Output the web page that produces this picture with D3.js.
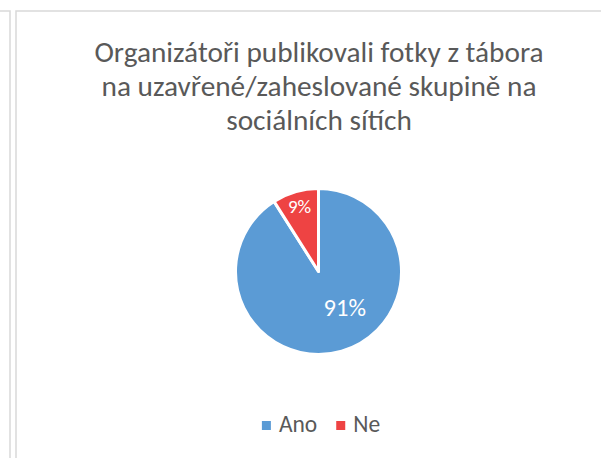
<!DOCTYPE html>
<html>
<head>
<meta charset="utf-8">
<script src="https://cdn.jsdelivr.net/npm/d3@7"></script>
<style>
  html, body { margin: 0; padding: 0; background: #ffffff; }
  svg { display: block; }
  text { font-family: Calibri, Carlito, Lato, "Noto Sans", sans-serif; }
</style>
</head>
<body>
<svg id="chart" width="601" height="458"></svg>
<script>
// chart data
const categories = ["Ano", "Ne"];
const values = [91, 9];
const colors = ["#5B9BD5", "#EE4343"];
const titleLines = [
    "Organizátoři publikovali fotky z tábora",
    "na uzavřené/zaheslované skupině na",
    "sociálních sítích"
];

const width = 601, height = 458;
const cx = 318.5, cy = 271.5, radius = 83;

var svg = d3.select("#chart");

// frame lines from the spreadsheet window
svg.append("path")
    .attr("d", "M0,11H10V458")
    .attr("fill", "none").attr("stroke", "#d9d9d9").attr("stroke-width", 1.5);
svg.append("path")
    .attr("d", "M601,11H16V458")
    .attr("fill", "none").attr("stroke", "#d9d9d9").attr("stroke-width", 1.5);

// title
svg.append("g").selectAll("text")
    .data(titleLines)
    .enter().append("text")
    .attr("x", 319)
    .attr("y", (d, i) => 62 + i * 34)
    .attr("text-anchor", "middle")
    .attr("fill", "#595959")
    .style("font-size", "29.3px")
    .text(d => d);

// pie
var color = d3.scaleOrdinal().domain(categories).range(colors);
var pie = d3.pie().sort(null).value(d => d.value)
    .startAngle(0).endAngle(2 * Math.PI);
var arcs = pie(categories.map((c, i) => ({ name: c, value: values[i] })));
var arc = d3.arc().innerRadius(0).outerRadius(radius);

var g = svg.append("g").attr("transform", "translate(" + cx + "," + cy + ")");
g.selectAll("path")
    .data(arcs)
    .enter().append("path")
    .attr("d", arc)
    .attr("fill", d => color(d.data.name))
    .attr("stroke", "#ffffff")
    .attr("stroke-width", 3)
    .attr("stroke-linejoin", "round");

// data labels (best-fit style placement)
var total = d3.sum(values);
function labelPos(d) {
    var big = (d.endAngle - d.startAngle) > Math.PI;
    var a = big ? d.startAngle + (d.endAngle - d.startAngle) * 0.44 : (d.startAngle + d.endAngle) / 2;
    var r = radius * (big ? 0.54 : 0.82);
    return [Math.sin(a) * r, -Math.cos(a) * r];
}
g.selectAll("text.lbl")
    .data(arcs)
    .enter().append("text")
    .attr("class", "lbl")
    .attr("x", d => labelPos(d)[0])
    .attr("y", d => labelPos(d)[1])
    .attr("dy", "0.35em")
    .attr("text-anchor", "middle")
    .attr("fill", "#ffffff")
    .style("font-size", d => (d.endAngle - d.startAngle) > Math.PI ? "24.5px" : "19px")
    .text(d => Math.round(d.data.value / total * 100) + "%");

// legend
var legend = svg.append("g");
var items = legend.selectAll("g")
    .data(categories)
    .enter().append("g");
items.append("rect")
    .attr("width", 9).attr("height", 9)
    .attr("y", -11)
    .attr("fill", d => color(d));
items.append("text")
    .attr("x", 17)
    .attr("y", 0)
    .attr("fill", "#595959")
    .style("font-size", "23.5px")
    .text(d => d);
var xoff = 0;
items.each(function () {
    d3.select(this).attr("transform", "translate(" + xoff + ",0)");
    xoff += this.getBBox().width + 19;
});
var lw = xoff - 19;
legend.attr("transform", "translate(" + (321 - lw / 2) + ",432)");
</script>
</body>
</html>
